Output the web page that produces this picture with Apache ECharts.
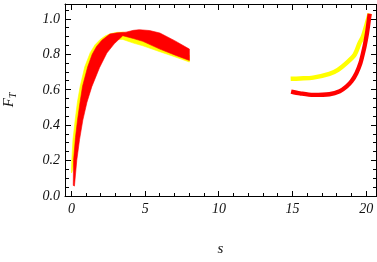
<!DOCTYPE html>
<html><head><meta charset="utf-8">
<script src="https://cdn.jsdelivr.net/npm/echarts@6/dist/echarts.min.js"></script>
<style>html,body{margin:0;padding:0;background:#fff}#c{width:377px;height:262px}</style>
</head><body><div id="c"></div>
<script>
// Tick labels and tick marks
const xTickValues = [0, 5, 10, 15, 20];
const xMinorValues = [1,2,3,4,6,7,8,9,11,12,13,14,16,17,18,19];
const yTickValues = [0, 0.2, 0.4, 0.6, 0.8, 1.0];
const yMinorValues = [0.05,0.1,0.15,0.25,0.3,0.35,0.45,0.5,0.55,0.65,0.7,0.75,0.85,0.9,0.95,1.05];

// Left part: bands (upper and lower boundaries) [s, F_T]
const yellowUpper = [[0.0,0.15],[0.02,0.2],[0.1,0.32],[0.25,0.43],[0.4,0.53],[0.59,0.62],[0.9,0.73],[1.27,0.81],[1.6,0.855],[1.95,0.885],[2.3,0.905],[2.63,0.917],[3.1,0.925],[3.5,0.926],[4.0,0.912],[5.0,0.895],[6.0,0.86],[7.0,0.83],[8.0,0.795]];
const yellowLower = [[0.0,0.13],[0.05,0.14],[0.3,0.26],[0.6,0.45],[1.0,0.6],[1.5,0.73],[2.0,0.81],[2.6,0.87],[3.0,0.885],[3.48,0.885],[4.2,0.864],[4.84,0.849],[6.0,0.815],[7.0,0.787],[8.0,0.757]];
const redUpper = [[0.12,0.06],[0.14,0.2],[0.27,0.33],[0.41,0.43],[0.58,0.53],[0.75,0.62],[1.1,0.73],[1.4,0.8],[1.7,0.845],[2.06,0.88],[2.6,0.915],[3.1,0.922],[3.7,0.926],[4.2,0.936],[4.6,0.94],[5.3,0.935],[6.0,0.921],[7.0,0.878],[8.0,0.83]];
const redLower = [[0.2,0.056],[0.36,0.202],[0.55,0.32],[0.77,0.429],[1.05,0.53],[1.38,0.618],[1.9,0.725],[2.4,0.808],[2.9,0.86],[3.48,0.906],[4.2,0.89],[4.84,0.874],[6.0,0.83],[7.0,0.797],[8.0,0.766]];

// Right part: curves [s, F_T]
const yellowRight = [[14.87,0.662],[15.5,0.664],[16.4,0.669],[17.5,0.69],[18.08,0.713],[18.65,0.751],[19.21,0.798],[19.55,0.865],[19.78,0.902],[20.05,0.978],[20.23,1.03]];
const redRight = [[14.9,0.59],[15.5,0.58],[16.4,0.571],[17.5,0.575],[18.2,0.592],[18.65,0.618],[19.0,0.648],[19.33,0.694],[19.6,0.75],[19.78,0.808],[19.9,0.852],[20.05,0.92],[20.23,1.03]];

const X_MIN = -0.44, X_MAX = 20.66, Y_MIN = 0, Y_MAX = 1.085;
const MAJOR_LEN = 5, MINOR_LEN = 3;
const TICK_COL = '#000';

const labelFont = {fontFamily:'Liberation Serif', fontStyle:'italic', fontSize:14, color:'#111'};
const axisCol = '#000';
const lineOn = {show:true, onZero:false, lineStyle:{color:axisCol, width:1}};

function band(upper, lower, color){
  return {type:'custom', xAxisIndex:0, yAxisIndex:0, data:[[0,0]], silent:true, clip:false,
    renderItem:function(params, api){
      const pts = upper.concat(lower.slice().reverse()).map(p=>api.coord(p));
      return {type:'polygon', shape:{points:pts}, style:{fill:color, stroke:color, lineWidth:0.6}};
    }};
}
function curve(data, color, w){
  return {type:'line', xAxisIndex:0, yAxisIndex:0, data:data, showSymbol:false, smooth:0.3, silent:true, clip:false,
    lineStyle:{color:color, width:w, cap:'butt'}};
}
// Frame ticks (inward, all four sides) positioned through the axes' scales, drawn as 1px rects
function frameTicks(){
  return {type:'custom', xAxisIndex:0, yAxisIndex:0, data:[[0,0]], silent:true, clip:false, z:10,
    renderItem:function(params, api){
      const kids = [];
      const box = (x,y,w,h)=>kids.push({type:'rect', shape:{x:x,y:y,width:w,height:h}, style:{fill:TICK_COL}});
      const px = v => Math.round(v - 0.5);
      const c0 = api.coord([X_MIN, Y_MIN]), c1 = api.coord([X_MAX, Y_MAX]);
      const left = px(c0[0]), bottom = px(c0[1]), right = px(c1[0]), top = px(c1[1]);
      const xt = (vals, len) => vals.forEach(v => { const x = px(api.coord([v, Y_MIN])[0]);
        box(x, bottom - len, 1, len); box(x, top + 1, 1, len); });
      const yt = (vals, len) => vals.forEach(v => { const y = px(api.coord([X_MIN, v])[1]);
        box(left + 1, y, len, 1); box(right - len, y, len, 1); });
      xt(xTickValues, MAJOR_LEN); xt(xMinorValues, MINOR_LEN);
      yt(yTickValues, MAJOR_LEN); yt(yMinorValues, MINOR_LEN);
      box(right, top, 1, bottom - top + 1);
      return {type:'group', children:kids};
    }};
}

const chart = echarts.init(document.getElementById('c'), null, {renderer:'canvas'});
chart.setOption({
  animation:false,
  backgroundColor:'#fff',
  grid:{left:65, right:1, top:4, bottom:66, containLabel:false, outerBoundsMode:'none'},
  xAxis:[
    {type:'value', min:X_MIN, max:X_MAX, position:'bottom', axisLine:lineOn, axisTick:{show:false},
     axisLabel:Object.assign({show:true, customValues:xTickValues, margin:6}, labelFont), splitLine:{show:false},
     name:'s', nameLocation:'middle', nameGap:46,
     nameTextStyle:{fontFamily:'Liberation Serif', fontStyle:'italic', fontSize:15, color:'#111'}},
    {type:'value', min:X_MIN, max:X_MAX, position:'top', axisLine:lineOn, axisTick:{show:false},
     axisLabel:{show:false}, splitLine:{show:false}}
  ],
  yAxis:[
    {type:'value', min:Y_MIN, max:Y_MAX, position:'left', axisLine:lineOn, axisTick:{show:false},
     axisLabel:Object.assign({show:true, customValues:yTickValues, margin:5, formatter:v=>v.toFixed(1)}, labelFont),
     splitLine:{show:false},
     name:'{a|F}{b|T}', nameLocation:'middle', nameGap:47, nameRotate:90,
     nameTextStyle:{rich:{a:{fontFamily:'Liberation Serif', fontStyle:'italic', fontSize:15, color:'#111'},
                          b:{fontFamily:'Liberation Serif', fontStyle:'italic', fontSize:10, color:'#111', padding:[7,0,0,0]}}}}
  ],
  series:[
    band(yellowUpper, yellowLower, '#ffff00'),
    band(redUpper, redLower, '#ff0000'),
    curve(yellowRight, '#ffff00', 4.5),
    curve(redRight, '#ff0000', 4.3),
    frameTicks()
  ]
});
</script></body></html>
